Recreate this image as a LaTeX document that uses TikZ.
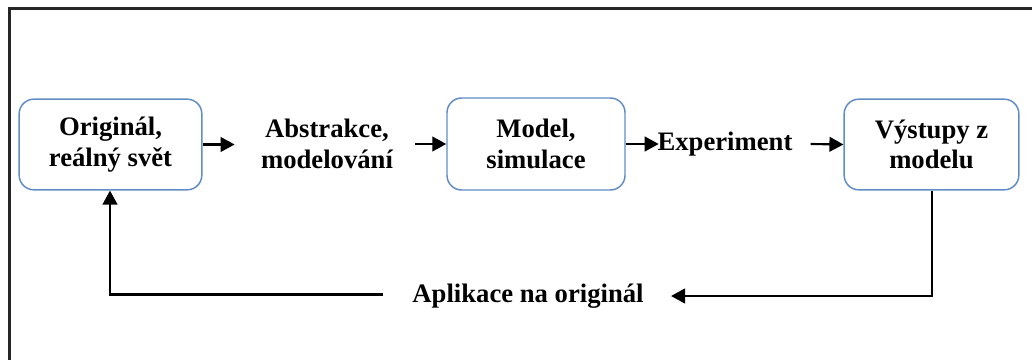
\documentclass[tikz,border=0pt]{standalone}
\usepackage{fontspec}
\setmainfont{Liberation Serif}
\usetikzlibrary{arrows.meta}
\definecolor{boxblue}{RGB}{96,140,200}
\tikzset{
  stage/.style={draw=boxblue, line width=1.1pt, rounded corners=11pt, align=center,
    font=\bfseries\fontsize{20}{23}\selectfont, inner sep=0pt},
  label/.style={align=center, font=\bfseries\fontsize{20}{23}\selectfont, inner sep=0pt},
  flow/.style={line width=1.6pt, -{Triangle[length=10.5pt,width=11pt]}},
  back/.style={line width=1.4pt},
}
\begin{document}
\begin{tikzpicture}[x=0.75pt,y=-0.75pt]
\useasboundingbox (0,0) rectangle (1032,360);
% outer frame, running off the right and bottom edges
\draw[line width=2pt, black!85] (9.5,362) -- (9.5,8.5) -- (1034,8.5);
% stages
\node[stage, minimum width=137pt, minimum height=68pt] (orig) at (110.5,144.5) {Originál,\\reálný svět};
\node[label] (abst) at (327,144) {Abstrakce,\\modelování};
\node[stage, minimum width=133.5pt, minimum height=69pt] (model) at (536,144) {Model,\\simulace};
\node[label] (exp) at (725,144) {Experiment};
\node[stage, minimum width=131pt, minimum height=68pt] (out) at (931.5,144.5) {Výstupy z\\modelu};
\node[label] (appl) at (528,296) {Aplikace na originál};
% forward chain
\draw[flow] (orig.east) -- ++(32,0);
\draw[flow] (abst.east) ++(22,0) -- (model.west);
\draw[flow] (model.east) -- ++(33,0);
\draw[flow] (exp.east) ++(18,0) -- (out.west);
% feedback loop
\coordinate (r) at (932,296);
\coordinate (tip) at (671,296);
\coordinate (l) at (110,294.5);
\coordinate (lstart) at (383,294.5);
\draw[flow] (out.south -| r) -- (r) -- (tip);
\draw[flow] (lstart) -- (l) -- (l |- orig.south);
\end{tikzpicture}
\end{document}
